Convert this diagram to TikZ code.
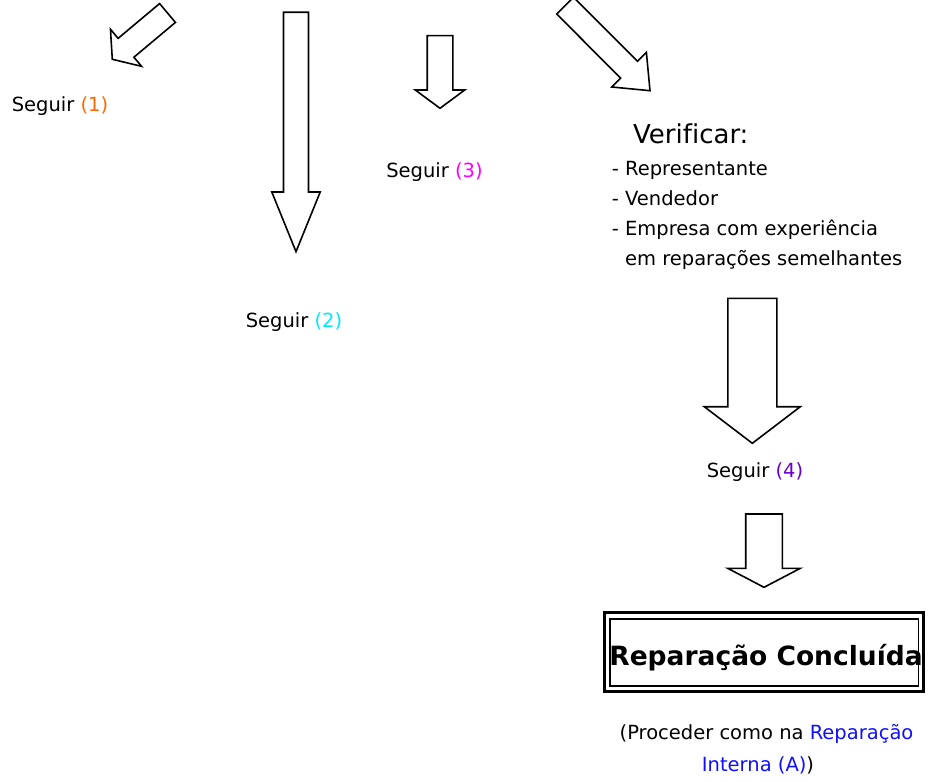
\documentclass[tikz,border=0pt]{standalone}
\usepackage{fontspec}
\setmainfont[Ligatures=NoCommon]{DejaVu Sans}
\usepackage{xcolor}
\usetikzlibrary{calc,positioning}
\definecolor{seg1}{HTML}{FF6A00}
\definecolor{seg2}{HTML}{00E8FF}
\definecolor{seg3}{HTML}{FF00FF}
\definecolor{seg4}{HTML}{6A00D0}
\definecolor{ref}{HTML}{1010FF}

% hollow block arrow: tail, tip, shaft half width, head half width, head length
\newcommand\blockarrow[5]{%
  \coordinate (ba-s) at ($(#2)!#5!(#1)$);
  \draw[blk] ($(#1)!#3!90:(#2)$) -- ($(ba-s)!#3!90:(#2)$) -- ($(ba-s)!#4!90:(#2)$) -- (#2)
    -- ($(ba-s)!#4!-90:(#2)$) -- ($(ba-s)!#3!-90:(#2)$) -- ($(#1)!#3!-90:(#2)$) -- cycle;}

\begin{document}
\begin{tikzpicture}[x=1pt,y=-1pt,font=\fontsize{19.5}{30}\selectfont,
  blk/.style={draw,line width=1.6pt,fill=white,line join=miter},
  lbl/.style={anchor=base,inner sep=0pt},
  frame/.style={draw,rectangle,inner sep=0pt}]
\useasboundingbox[fill=white] (0,0) rectangle (928,781);

\coordinate (t1) at (167.5,13);   \coordinate (h1) at (112.3,59.3);
\coordinate (t2) at (296,12.3);   \coordinate (h2) at (296,251.7);
\coordinate (t3) at (440,35.7);   \coordinate (h3) at (440,108.3);
\coordinate (t6) at (565.1,5.6);  \coordinate (h6) at (650,90.7);
\coordinate (t4) at (752.3,298.3); \coordinate (h4) at (752.3,443.3);
\coordinate (t5) at (764,514);    \coordinate (h5) at (764,587.3);

\blockarrow{t1}{h1}{12.3pt}{24.2pt}{17.9pt}
\blockarrow{t2}{h2}{12.5pt}{24.2pt}{59.7pt}
\blockarrow{t3}{h3}{12.8pt}{24.7pt}{18.3pt}
\blockarrow{t6}{h6}{11.9pt}{24.5pt}{29.7pt}
\blockarrow{t4}{h4}{24.5pt}{48pt}{36.6pt}
\blockarrow{t5}{h5}{18.3pt}{36.3pt}{19pt}

\node[lbl] (s1) at (60,111) {Seguir \textcolor{seg1}{(1)}};
\node[lbl] (s2) at (294,327.3) {Seguir \textcolor{seg2}{(2)}};
\node[lbl] (s3) at (434.5,177.3) {Seguir \textcolor{seg3}{(3)}};
\node[lbl] (s4) at (755,477) {Seguir \textcolor{seg4}{(4)}};

\node[lbl,anchor=base west,font=\fontsize{26}{30}\selectfont] (verif) at (633,143) {Verificar:};
\foreach \t [count=\i] in {- Representante,- Vendedor,- Empresa com experiência,\phantom{- }em reparações semelhantes}
  \node[lbl,anchor=base west] (li\i) at (611.7,145+30*\i) {\t};

\node[frame,line width=2.6pt,minimum width=319pt,minimum height=79pt] (done) at (763.8,652.2) {};
\node[frame,line width=1.6pt,minimum width=308.3pt,minimum height=67pt] (donein) at (764.2,652.5) {};
\node[lbl,font=\fontsize{26.5}{30}\bfseries\selectfont] (donetxt) at (766,665) {Reparação Concluída};

\node[lbl] (obs1) at (766.5,739) {(Proceder como na \textcolor{ref}{Reparação}};
\node[lbl] (obs2) at (758,771) {\textcolor{ref}{Interna (A)})};
\end{tikzpicture}
\end{document}
